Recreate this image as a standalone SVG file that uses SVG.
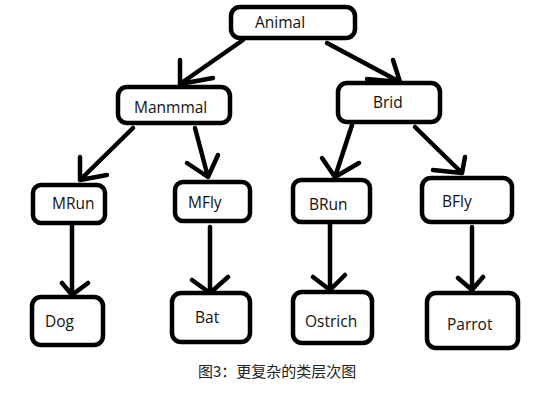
<svg xmlns="http://www.w3.org/2000/svg" width="559" height="413" viewBox="0 0 559 413">
<style>
.box{fill:#fff;stroke:#000;stroke-width:4.5}
.lbl{font-family:"Open Sans","Noto Sans",sans-serif;font-size:15.5px;fill:#111}
.arr{fill:none;stroke:#000;stroke-width:4.5;stroke-linecap:round;stroke-linejoin:round}
.cap{font-family:"Noto Sans CJK SC","Noto Sans",sans-serif;font-size:15px;fill:#222}
</style>
<rect width="559" height="413" fill="#fff"/>
<g id="connectors">
<path class="arr" d="M243,40 L180,84 M180,60 L180,84 L213,78"/>
<path class="arr" d="M327,43 L400,82 M393,60 L400,82 L367,79"/>
<path class="arr" d="M133,128 L80,180 M80,157 L80,180 L107,175"/>
<path class="arr" d="M195,128 L208,177 M187,163 L208,177 L218,155"/>
<path class="arr" d="M352,125 L335,177 M322,158 L335,177 L359,163"/>
<path class="arr" d="M415,127 L462,173 M465,157 L462,173 L433,170"/>
<path class="arr" d="M72,224 L72,295 M62,283 L72,295 L88,283"/>
<path class="arr" d="M210,227 L210,293 M192,280 L210,293 L228,277"/>
<path class="arr" d="M330,224 L330,290 M313,277 L330,290 L345,275"/>
<path class="arr" d="M472,227 L472,290 M458,278 L472,290 L483,277"/>
</g>
<g id="animal"><rect class="box" x="231" y="7" width="124" height="31" rx="9"/><text class="lbl" x="255" y="28">Animal</text></g>
<g id="manmmal"><rect class="box" x="118" y="87" width="112" height="36" rx="9"/><text class="lbl" x="134" y="113">Manmmal</text></g>
<g id="brid"><rect class="box" x="338" y="83" width="102" height="39" rx="9"/><text class="lbl" x="373" y="108">Brid</text></g>
<g id="mrun"><rect class="box" x="33" y="185" width="72" height="38" rx="8"/><text class="lbl" x="52" y="209">MRun</text></g>
<g id="mfly"><rect class="box" x="175" y="182" width="75" height="39" rx="8"/><text class="lbl" x="188" y="208">MFly</text></g>
<g id="brun"><rect class="box" x="293" y="180" width="77" height="42" rx="8"/><text class="lbl" x="309" y="210">BRun</text></g>
<g id="bfly"><rect class="box" x="422" y="178" width="90" height="44" rx="9"/><text class="lbl" x="442" y="207">BFly</text></g>
<g id="dog"><rect class="box" x="32" y="297" width="71" height="48" rx="9"/><text class="lbl" x="45" y="327">Dog</text></g>
<g id="bat"><rect class="box" x="172" y="293" width="78" height="49" rx="9"/><text class="lbl" x="195" y="323">Bat</text></g>
<g id="ostrich"><rect class="box" x="293" y="292" width="79" height="51" rx="9"/><text class="lbl" x="305" y="327">Ostrich</text></g>
<g id="parrot"><rect class="box" x="427" y="293" width="91" height="55" rx="9"/><text class="lbl" x="447" y="330">Parrot</text></g>
<text class="cap" x="198" y="377">图3：更复杂的类层次图</text>
</svg>
